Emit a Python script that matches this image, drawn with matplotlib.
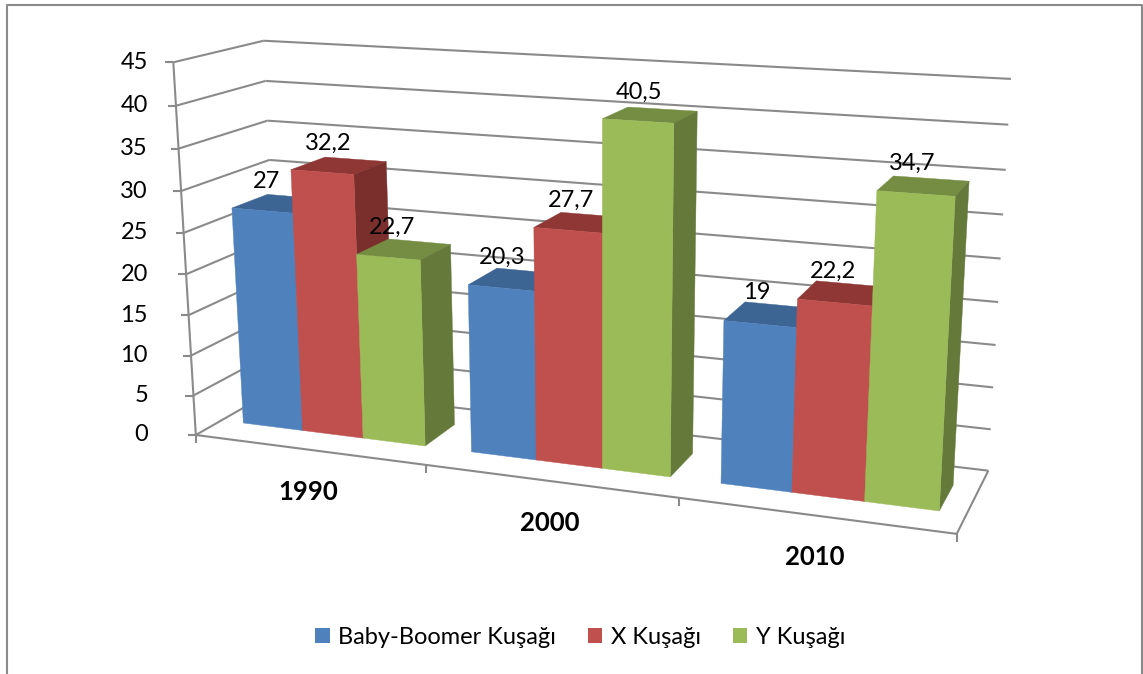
import numpy as np
import matplotlib
matplotlib.use('Agg')
import matplotlib.pyplot as plt
from matplotlib.patches import Patch

plt.rcParams['font.family'] = ['Lato', 'DejaVu Sans']

# values
years = ['1990', '2000', '2010']
series_names = ['Baby-Boomer Kuşağı', 'X Kuşağı', 'Y Kuşağı']
boomer = [27, 20.3, 19]
gen_x = [32.2, 27.7, 22.2]
gen_y = [22.7, 40.5, 34.7]
y_ticks = [0, 5, 10, 15, 20, 25, 30, 35, 40, 45]

# colours: front, top, side
front_colors = ['#4F81BD', '#C0504D', '#9BBB59']
top_colors = ['#3D6594', '#8E3735', '#748D43']
side_colors = ['#345A86', '#7B2F2D', '#657A3A']
grid_color = '#8A8A8A'

# camera: fit a perspective projection from the box corners (world -> pixel)
world_pts = [(0, 0, 0), (0, 0, 1), (0, 1, 1), (0, 1, 0), (1, 1, 1), (1, 1, 0), (1, 0, 0),
             (1 / 3, 0, 0), (2 / 3, 0, 0)]
pixel_pts = [(195, 434), (174, 63), (263, 40), (281, 388), (1011, 79), (988, 470), (957, 534),
             (426, 464), (679, 499)]
A, b = [], []
for (X, Y, Z), (u, v) in zip(world_pts, pixel_pts):
    A.append([X, Y, Z, 1, 0, 0, 0, 0, -u * X, -u * Y, -u * Z])
    A.append([0, 0, 0, 0, X, Y, Z, 1, -v * X, -v * Y, -v * Z])
    b += [u, v]
cam = np.linalg.lstsq(np.array(A, float), np.array(b, float), rcond=None)[0]
cam = np.append(cam, 1).reshape(3, 4)


def proj(cat, depth, val):
    # cat in category units, depth 0 (front) to 1 (back), val in data units
    p = cam @ np.array([cat / 3, depth, val / 45, 1])
    return p[0] / p[2], p[1] / p[2]


fig = plt.figure(figsize=(11.43, 6.74), dpi=100)
ax = fig.add_axes([0, 0, 1, 1])
ax.set_xlim(0, 1143)
ax.set_ylim(674, 0)
ax.axis('off')

# chart frame
ax.plot([7, 7, 1142, 1142], [674, 5, 5, 674], color=grid_color, lw=1.5)


def seg(a, b, **kw):
    ax.plot([a[0], b[0]], [a[1], b[1]], color=grid_color, lw=1.5, solid_capstyle='butt', **kw)


# walls
for t in y_ticks:
    seg(proj(0, 0, t), proj(0, 1, t))
    seg(proj(0, 1, t), proj(3, 1, t))
    x0, y0 = proj(0, 0, t)
    seg((x0 - 8, y0), (x0, y0))
    ax.text(148, y0, str(t), ha='right', va='center', fontsize=17, color='black')
seg(proj(0, 0, 0), proj(0, 0, 45))
seg(proj(0, 0, 0), proj(3, 0, 0))
seg(proj(3, 0, 0), proj(3, 1, 0))
for i in range(4):
    x0, y0 = proj(i, 0, 0)
    seg((x0, y0), (x0, y0 + 8))

# bars
gap = 0.10
bar_w = 0.268
d0, d1 = 0.29, 0.70
series = [boomer, gen_x, gen_y]
for c in range(len(years)):
    for s, vals in enumerate(series):
        v = vals[c]
        x0 = c + gap + s * bar_w
        x1 = x0 + bar_w
        top = [proj(x0, d0, v), proj(x1, d0, v), proj(x1, d1, v), proj(x0, d1, v)]
        side = [proj(x1, d0, 0), proj(x1, d1, 0), proj(x1, d1, v), proj(x1, d0, v)]
        front = [proj(x0, d0, 0), proj(x1, d0, 0), proj(x1, d0, v), proj(x0, d0, v)]
        ax.fill(*zip(*top), color=top_colors[s], lw=0.3, zorder=3)
        ax.fill(*zip(*side), color=side_colors[s], lw=0.3, zorder=3)
        ax.fill(*zip(*front), color=front_colors[s], lw=0.3, zorder=3)

# data labels
label_dx = [-13.5, -11, -12]
for c in range(len(years)):
    for s, vals in enumerate(series):
        v = vals[c]
        lx, ly = proj(c + gap + (s + 0.5) * bar_w, 0.5, v)
        txt = str(v).replace('.', ',')
        ax.text(lx + label_dx[s], ly - 22, txt, ha='center', va='center', fontsize=17,
                color='black', zorder=5)

# category labels
for c, year in enumerate(years):
    x0, y0 = proj(c + 0.5, 0, 0)
    ax.text(x0, y0 + 42, year, ha='center', va='center', fontsize=18.5, fontweight='bold')

handles = [Patch(facecolor=front_colors[i], label=series_names[i]) for i in range(3)]
ax.legend(handles=handles, loc='center', bbox_to_anchor=(580 / 1143, 1 - 637 / 674), ncol=3,
          frameon=False, fontsize=17, handlelength=0.62, handleheight=0.62,
          handletextpad=0.35, columnspacing=1.35)

fig.savefig('out.png', dpi=100)
